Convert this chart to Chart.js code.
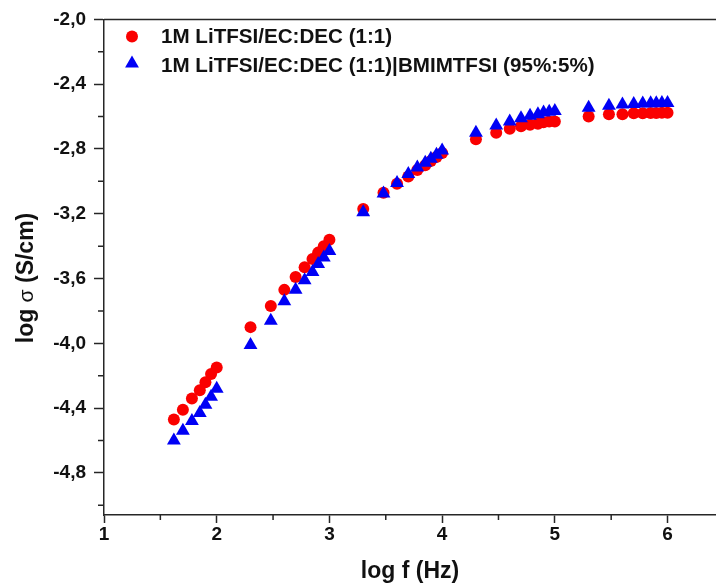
<!DOCTYPE html>
<html>
<head>
<meta charset="utf-8">
<script src="https://cdn.jsdelivr.net/npm/chart.js"></script>
<style>
  html, body { margin: 0; padding: 0; background: #fff; overflow: hidden; }
  #wrap { width: 716px; height: 587px; overflow: hidden; }
</style>
</head>
<body>
<div id="wrap"><canvas id="myChart" width="724" height="587"></canvas></div>
<script>
// log f (Hz)
const logF = [1.62, 1.70, 1.78, 1.85, 1.90, 1.95, 2.00,
              2.30, 2.48, 2.60, 2.70, 2.78, 2.85, 2.90, 2.95, 3.00,
              3.30, 3.48, 3.60, 3.70, 3.78, 3.85, 3.90, 3.95, 4.00,
              4.30, 4.48, 4.60, 4.70, 4.78, 4.85, 4.90, 4.95, 5.00,
              5.30, 5.48, 5.60, 5.70, 5.78, 5.85, 5.90, 5.95, 6.00];

// log sigma, 1M LiTFSI/EC:DEC (1:1)
const sigmaRef = [-4.47, -4.41, -4.34, -4.29, -4.24, -4.19, -4.15,
                  -3.90, -3.77, -3.67, -3.59, -3.53, -3.48, -3.44, -3.40, -3.36,
                  -3.17, -3.07, -3.015, -2.97, -2.93, -2.90, -2.875, -2.85, -2.825,
                  -2.74, -2.70, -2.675, -2.66, -2.65, -2.645, -2.635, -2.63, -2.63,
                  -2.60, -2.585, -2.585, -2.58, -2.58, -2.578, -2.578, -2.577, -2.577];

// log sigma, 1M LiTFSI/EC:DEC (1:1)|BMIMTFSI (95%:5%)
const sigmaIL = [-4.60, -4.54, -4.48, -4.43, -4.38, -4.33, -4.28,
                 -4.01, -3.86, -3.74, -3.67, -3.61, -3.56, -3.51, -3.47, -3.43,
                 -3.19, -3.075, -3.01, -2.955, -2.915, -2.885, -2.86, -2.835, -2.81,
                 -2.70, -2.655, -2.63, -2.61, -2.595, -2.585, -2.575, -2.57, -2.565,
                 -2.545, -2.533, -2.525, -2.522, -2.52, -2.518, -2.518, -2.516, -2.516];

const seriesNames = ["1M LiTFSI/EC:DEC (1:1)", "1M LiTFSI/EC:DEC (1:1)|BMIMTFSI (95%:5%)"];
const xTickValues = [1, 2, 3, 4, 5, 6];
const xMinorValues = [1.5, 2.5, 3.5, 4.5, 5.5];
const yTickValues = [-4.8, -4.4, -4.0, -3.6, -3.2, -2.8, -2.4, -2.0];
const yMinorValues = [-5.0, -4.6, -4.2, -3.8, -3.4, -3.0, -2.6, -2.2];

const axisColor = "#262626";
const fontFamily = "'Liberation Sans', Arial, sans-serif";

// minor ticks, top frame line, y title and the legend inside the plot
const framePlugin = {
  id: "frame",
  afterDraw(chart) {
    const ctx = chart.ctx;
    const a = chart.chartArea;
    const xs = chart.scales.x, ys = chart.scales.y;
    ctx.save();
    ctx.strokeStyle = axisColor;
    ctx.lineWidth = 1.5;
    ctx.beginPath();
    ctx.moveTo(a.left, a.top);
    ctx.lineTo(chart.width, a.top);
    xMinorValues.forEach(v => {
      const px = xs.getPixelForValue(v);
      ctx.moveTo(px, a.bottom);
      ctx.lineTo(px, a.bottom + 5);
    });
    yMinorValues.forEach(v => {
      const py = ys.getPixelForValue(v);
      ctx.moveTo(a.left, py);
      ctx.lineTo(a.left - 6, py);
    });
    ctx.stroke();

    // y axis title: "log " and " (S/cm)" bold, sigma regular
    ctx.save();
    ctx.translate(27, 278);
    ctx.rotate(-Math.PI / 2);
    ctx.fillStyle = "#111";
    ctx.textBaseline = "middle";
    ctx.textAlign = "left";
    const parts = [["log ", "bold 23px "], ["σ", "21px "], [" (S/cm)", "bold 23px "]];
    let total = 0;
    parts.forEach(p => { ctx.font = p[1] + fontFamily; total += ctx.measureText(p[0]).width; });
    let cx = -total / 2;
    parts.forEach(p => {
      ctx.font = p[1] + fontFamily;
      ctx.fillText(p[0], cx, 0);
      cx += ctx.measureText(p[0]).width;
    });
    ctx.restore();

    // legend
    const lx = a.left + 28;
    ctx.fillStyle = chart.data.datasets[0].backgroundColor;
    ctx.beginPath();
    ctx.arc(lx, a.top + 17, 6, 0, Math.PI * 2);
    ctx.fill();
    const r = 8, ty = a.top + 44;
    ctx.fillStyle = chart.data.datasets[1].backgroundColor;
    ctx.beginPath();
    ctx.moveTo(lx, ty - r);
    ctx.lineTo(lx + r * Math.sin(Math.PI / 3), ty + r / 2);
    ctx.lineTo(lx - r * Math.sin(Math.PI / 3), ty + r / 2);
    ctx.closePath();
    ctx.fill();
    ctx.fillStyle = "#111";
    ctx.font = "bold 20.6px " + fontFamily;
    ctx.textBaseline = "middle";
    ctx.textAlign = "left";
    ctx.fillText(seriesNames[0], a.left + 57, a.top + 18);
    ctx.fillText(seriesNames[1], a.left + 57, a.top + 47);
    ctx.restore();
  }
};

const ctx = document.getElementById("myChart").getContext("2d");

const config = {
  type: "scatter",
  data: {
    datasets: [
      {
        label: seriesNames[0],
        data: logF.map((x, i) => ({ x: x, y: sigmaRef[i] })),
        backgroundColor: "rgb(250, 0, 0)",
        borderWidth: 0,
        pointStyle: "circle",
        pointRadius: 6,
        order: 1,
      },
      {
        label: seriesNames[1],
        data: logF.map((x, i) => ({ x: x, y: sigmaIL[i] })),
        backgroundColor: "rgb(0, 0, 245)",
        borderWidth: 0,
        pointStyle: "triangle",
        pointRadius: 8,
        order: 0,
      },
    ],
  },
  options: {
    responsive: false,
    animation: false,
    layout: { padding: { top: 16, left: 0, right: 0, bottom: 0 } },
    plugins: {
      legend: { display: false },
      tooltip: { enabled: false },
    },
    scales: {
      x: {
        type: "linear",
        min: 1,
        max: 6.43, // the right edge of the original figure is cropped
        afterBuildTicks: axis => { axis.ticks = xTickValues.map(v => ({ value: v })); },
        afterFit: scale => { scale.height = 72; },
        grid: { drawOnChartArea: false, tickLength: 8, tickColor: axisColor, tickWidth: 1.5 },
        border: { color: axisColor, width: 1.5 },
        ticks: {
          color: "#111",
          padding: 0,
          maxRotation: 0,
          font: { family: fontFamily, size: 19, weight: "bold" },
          callback: v => String(v),
        },
        title: {
          display: true,
          text: "log f (Hz)",
          color: "#111",
          padding: { top: 0, bottom: 2 },
          font: { family: fontFamily, size: 23, weight: "bold" },
        },
      },
      y: {
        min: -5.06,
        max: -2.0,
        afterBuildTicks: axis => { axis.ticks = yTickValues.map(v => ({ value: v })); },
        afterFit: scale => { scale.width = 104; },
        grid: { drawOnChartArea: false, tickLength: 10, tickColor: axisColor, tickWidth: 1.5 },
        border: { color: axisColor, width: 1.5 },
        ticks: {
          color: "#111",
          padding: 8,
          font: { family: fontFamily, size: 19, weight: "bold" },
          callback: v => v.toFixed(1).replace(".", ","),
        },
        title: { display: false },
      },
    },
  },
  plugins: [framePlugin],
};

const conductivityChart = new Chart(ctx, config);
</script>
</body>
</html>
